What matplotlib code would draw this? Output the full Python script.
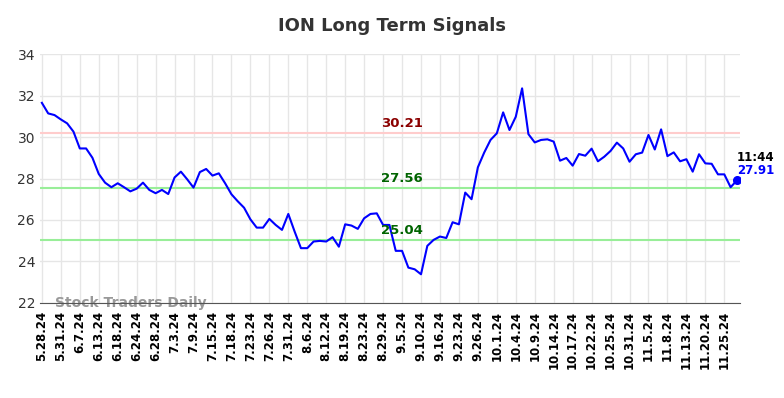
import matplotlib
matplotlib.use("Agg")
import matplotlib.pyplot as plt

# ION closing values, one per trading session
prices = [
    31.65, 31.14, 31.06, 30.85, 30.66, 30.26, 29.45, 29.45, 29.00, 28.22,
    27.80, 27.58, 27.77, 27.58, 27.38, 27.51, 27.80, 27.45, 27.29, 27.45,
    27.25, 28.05, 28.33, 27.96, 27.56, 28.31, 28.46, 28.14, 28.25, 27.77,
    27.24, 26.90, 26.59, 26.03, 25.63, 25.63, 26.05, 25.76, 25.52, 26.29,
    25.44, 24.64, 24.64, 24.96, 24.99, 24.96, 25.17, 24.71, 25.79, 25.73,
    25.57, 26.08, 26.29, 26.32, 25.76, 25.76, 24.51, 24.51, 23.70, 23.62,
    23.38, 24.75, 25.04, 25.20, 25.13, 25.89, 25.79, 27.32, 27.00, 28.54,
    29.25, 29.86, 30.18, 31.19, 30.34, 30.98, 32.35, 30.14, 29.74, 29.86,
    29.89, 29.78, 28.86, 28.99, 28.62, 29.18, 29.10, 29.44, 28.83, 29.05,
    29.33, 29.73, 29.45, 28.81, 29.17, 29.25, 30.10, 29.40, 30.37, 29.08,
    29.26, 28.83, 28.93, 28.33, 29.17, 28.73, 28.71, 28.20, 28.20, 27.58,
    27.91,
]

tick_labels = [
    "5.28.24", "5.31.24", "6.7.24", "6.13.24", "6.18.24", "6.24.24", "6.28.24",
    "7.3.24", "7.9.24", "7.15.24", "7.18.24", "7.23.24", "7.26.24", "7.31.24",
    "8.6.24", "8.12.24", "8.19.24", "8.23.24", "8.29.24", "9.5.24", "9.10.24",
    "9.16.24", "9.23.24", "9.26.24", "10.1.24", "10.4.24", "10.9.24",
    "10.14.24", "10.17.24", "10.22.24", "10.25.24", "10.31.24", "11.5.24",
    "11.8.24", "11.13.24", "11.20.24", "11.25.24",
]

resistance = 30.21
supports = [27.56, 25.04]
last_time = "11:44"

fig = plt.figure(figsize=(7.84, 3.98), dpi=100)
ax = fig.add_axes([0.051, 0.239, 0.893, 0.625])

x = list(range(len(prices)))
ax.plot(x, prices, color="#0000ff", lw=1.5, zorder=3)
ax.plot(x[-1], prices[-1], "o", color="#0000ff", ms=5.5, zorder=4)

ax.axhline(resistance, color="#ffcccc", lw=1.5, zorder=2)
for s in supports:
    ax.axhline(s, color="#99ee99", lw=1.5, zorder=2)

mid = 57
ax.text(mid, resistance + 0.12, f"{resistance:.2f}", color="#8b0000",
        fontsize=9.5, fontweight="bold", ha="center", va="bottom")
for s in supports:
    ax.text(mid, s + 0.12, f"{s:.2f}", color="#006400",
            fontsize=9.5, fontweight="bold", ha="center", va="bottom")

ax.annotate(last_time, (x[-1], prices[-1]), xytext=(0, 16.5),
            textcoords="offset points", fontsize=8.5, fontweight="bold",
            color="black", ha="left", va="center")
ax.annotate(f"{prices[-1]:.2f}", (x[-1], prices[-1]), xytext=(0, 7),
            textcoords="offset points", fontsize=8.5, fontweight="bold",
            color="#0000ff", ha="left", va="center")

ax.text(2, 22, "Stock Traders Daily", color="#999999", fontsize=10,
        fontweight="bold", ha="left", va="center", zorder=1)

ax.set_xlim(-0.3, 110.5)
ax.set_ylim(22, 34)
ax.set_yticks(range(22, 35, 2))
ax.set_xticks(range(0, 3 * len(tick_labels), 3))
ax.set_xticklabels(tick_labels, rotation=90, fontsize=8.5, fontweight="bold")
ax.tick_params(axis="y", labelsize=10, colors="#333333", length=0)
ax.tick_params(axis="x", length=0, pad=6)

ax.grid(True, color="#e6e6e6", lw=1)
ax.set_axisbelow(True)
for side in ["top", "right", "left"]:
    ax.spines[side].set_visible(False)
ax.spines["bottom"].set_color("#555555")

fig.suptitle("ION Long Term Signals", x=0.5, y=0.935, va="center",
             fontsize=13, fontweight="bold", color="#333333")

fig.savefig("out.png", dpi=100)
